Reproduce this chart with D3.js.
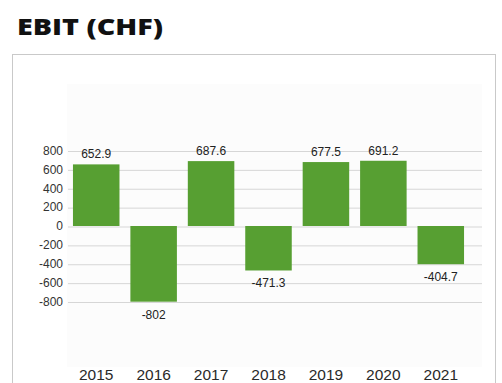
<!DOCTYPE html>
<html>
<head>
<meta charset="utf-8">
<script src="https://cdn.jsdelivr.net/npm/d3@7"></script>
<style>
  html, body { margin: 0; padding: 0; background: #fff; }
  svg { display: block; }
</style>
</head>
<body>
<svg id="chart" width="502" height="383"></svg>
<script>
// EBIT per year, in CHF
const years = ["2015", "2016", "2017", "2018", "2019", "2020", "2021"];
const ebit = [652.9, -802, 687.6, -471.3, 677.5, 691.2, -404.7];
const valueLabels = ["652.9", "-802", "687.6", "-471.3", "677.5", "691.2", "-404.7"];
const yTicks = [-800, -600, -400, -200, 0, 200, 400, 600, 800];

const svg = d3.select("#chart");

// Title
svg.append("text")
  .attr("x", 17).attr("y", 34.5)
  .attr("font-family", "'Open Sans', Lato, sans-serif")
  .attr("font-weight", 800)
  .attr("font-size", 23.5)
  .attr("textLength", 146)
  .attr("lengthAdjust", "spacingAndGlyphs")
  .attr("fill", "#111")
  .text("EBIT (CHF)");

// Outer panel
svg.append("rect")
  .attr("x", 12.5).attr("y", 54.5)
  .attr("width", 483).attr("height", 340)
  .attr("fill", "#fff")
  .attr("stroke", "#c9c9c9");

// Faint plot background
svg.append("rect")
  .attr("x", 67).attr("y", 84)
  .attr("width", 415).attr("height", 283)
  .attr("fill", "#fcfcfc");

const x = d3.scaleBand()
  .domain(years)
  .range([67.5, 469.5])
  .paddingInner(0.19)
  .paddingOuter(0.095);

const y = d3.scaleLinear()
  .domain([-800, 800])
  .range([301.5, 150.5]);

// Gridlines and y tick labels
const yAxis = d3.axisLeft(y)
  .tickValues(yTicks)
  .tickSize(-414)
  .tickPadding(5)
  .tickFormat(d => String(d));

const gy = svg.append("g")
  .attr("transform", "translate(68,0)")
  .call(yAxis);
gy.select(".domain").remove();
gy.selectAll(".tick line")
  .attr("stroke", "#d6d6d6")
  .attr("transform", "translate(0,0.5)");
gy.selectAll(".tick text")
  .attr("x", -5)
  .attr("font-family", "'Liberation Sans', Arial, sans-serif")
  .attr("font-size", 12)
  .attr("fill", "#333");

// Bars
svg.append("g").selectAll("rect")
  .data(years)
  .join("rect")
  .attr("x", d => x(d))
  .attr("width", x.bandwidth())
  .attr("y", (d, i) => y(Math.max(0, ebit[i])))
  .attr("height", (d, i) => Math.abs(y(ebit[i]) - y(0)))
  .attr("fill", "#579f32");

// Value labels
svg.append("g").selectAll("text")
  .data(years)
  .join("text")
  .attr("x", d => x(d) + x.bandwidth() / 2)
  .attr("y", (d, i) => ebit[i] >= 0 ? y(ebit[i]) - 6 : y(ebit[i]) + 17)
  .attr("text-anchor", "middle")
  .attr("font-family", "'Liberation Sans', Arial, sans-serif")
  .attr("font-size", 12)
  .attr("fill", "#222")
  .text((d, i) => valueLabels[i]);

// Category axis labels
const xAxis = d3.axisBottom(x).tickSize(0).tickPadding(0);
const gx = svg.append("g")
  .attr("transform", "translate(0,368)")
  .call(xAxis);
gx.select(".domain").remove();
gx.selectAll(".tick text")
  .attr("dy", "0.75em")
  .attr("font-family", "'Liberation Sans', Arial, sans-serif")
  .attr("font-size", 15.5)
  .attr("fill", "#2a2a2a");
</script>
</body>
</html>
